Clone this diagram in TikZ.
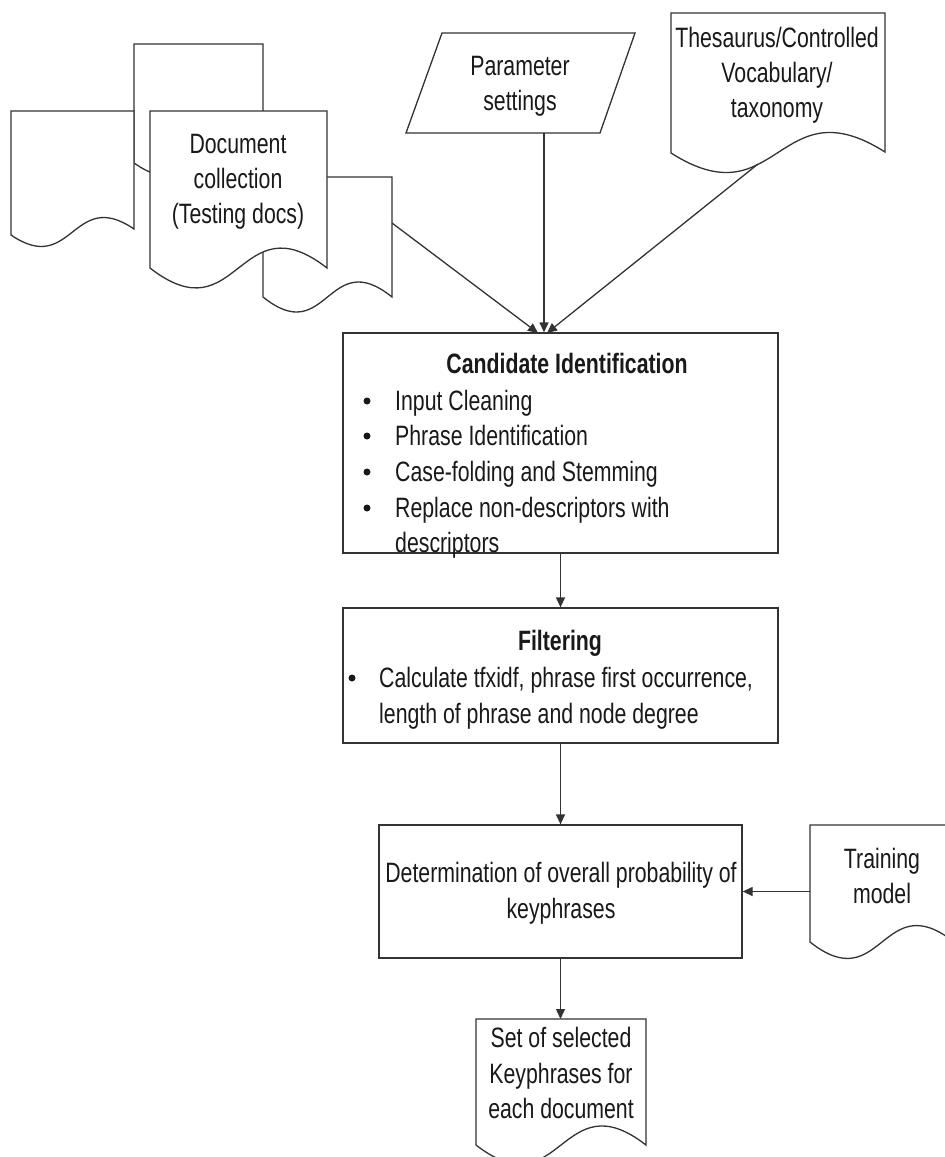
\documentclass[tikz,border=0pt]{standalone}
\usepackage{fontspec}
\setmainfont{Liberation Sans}[FakeStretch=0.76]
\usetikzlibrary{arrows.meta}

% document symbol with a wavy lower edge: x0, top, x1, left end y, right end y, wave strength
\newcommand{\flowdoc}[6]{%
  \draw[ln, fill=white] (#1,#4) -- (#1,#2) -- (#3,#2) -- (#3,#5)
    .. controls ({(#1+#3)/2},{#5-#6}) and ({(#1+#3)/2},{#4+#6}) .. (#1,#4) -- cycle;}

\begin{document}
\begin{tikzpicture}[x=1pt,y=-1pt,
  ln/.style={draw=black!80, line width=1.3pt},
  arr/.style={ln, -{Triangle[length=10pt,width=9pt]}},
  box/.style={ln, rectangle, inner sep=0pt, fill=white},
  txt/.style={anchor=base, inner sep=0pt, text=black!90, font=\fontsize{28}{35.5}\selectfont},
  ltxt/.style={txt, anchor=base west},
  btxt/.style={txt, font=\fontsize{28}{35.5}\selectfont\bfseries},
  dot/.style={circle, fill=black!90, inner sep=0pt, minimum size=7pt},
  ]
\useasboundingbox (0,0) rectangle (945,1157);

% --- document collection (stacked pages) ---
\flowdoc{134}{44}{263}{163}{163}{45}
\flowdoc{11}{111}{134}{235}{229}{42}
\flowdoc{263}{177}{392}{297}{297}{52}
\flowdoc{150}{111}{327}{268}{268}{69}
\node[txt] (dc1) at (238,153) {Document};
\node[txt] (dc2) at (238,188) {collection};
\node[txt] (dc3) at (238,223) {(Testing docs)};
\coordinate (dcOut) at (392,223);

% --- parameter settings (input) ---
\draw[ln, fill=white] (442,33) -- (635,33) -- (600,133) -- (406,133) -- cycle;
\node[txt] (par1) at (520,75) {Parameter};
\node[txt] (par2) at (520,110) {settings};
\coordinate (parOut) at (544,133);

% --- thesaurus ---
\flowdoc{671}{13}{885}{153}{152}{68}
\node[txt] (th1) at (777,47) {Thesaurus/Controlled};
\node[txt] (th2) at (777,82) {Vocabulary/};
\node[txt] (th3) at (777,117) {taxonomy};
\coordinate (thOut) at (758,164);

% --- candidate identification ---
\node[box, minimum width=435pt, minimum height=220pt] (cand) at (560.5,443) {};
\node[btxt] (candT) at (567,373) {Candidate Identification};
\foreach \yy/\tx [count=\i] in {410/Input Cleaning, 445/Phrase Identification,
    481/Case-folding and Stemming, 517/Replace non-descriptors with} {
  \node[dot] (cb\i) at (367,\yy-9) {};
  \node[ltxt] (ct\i) at (395,\yy) {\tx};
}
\node[ltxt] (ct5) at (395,552) {descriptors};

% --- filtering ---
\node[box, minimum width=435pt, minimum height=135pt] (filt) at (560.5,675.5) {};
\node[btxt] (filtT) at (560,650) {Filtering};
\node[dot] (fb1) at (352,678) {};
\node[ltxt] (ft1) at (379,687) {Calculate tfxidf, phrase first occurrence,};
\node[ltxt] (ft2) at (379,723) {length of phrase and node degree};

% --- probability ---
\node[box, minimum width=363pt, minimum height=133pt] (prob) at (560.5,891.5) {};
\node[txt] (pr1) at (561,882) {Determination of overall probability of};
\node[txt] (pr2) at (561,918) {keyphrases};

% --- training model ---
\flowdoc{810}{825}{954}{942}{942}{57}
\node[txt] (tr1) at (882,868) {Training};
\node[txt] (tr2) at (882,903) {model};
\coordinate (trIn) at (810,891.5);

% --- selected keyphrases ---
\flowdoc{476}{1019}{646}{1145}{1145}{66}
\node[txt] (ou1) at (561,1047) {Set of selected};
\node[txt] (ou2) at (561,1083) {Keyphrases for};
\node[txt] (ou3) at (561,1118) {each document};
\coordinate (ouTop) at (560.5,1019);

% --- connectors ---
\draw[arr] (dcOut) -- (538,333);
\draw[arr] (parOut) -- (parOut |- cand.north);
\draw[arr] (thOut) -- (547,333);
\draw[arr] (cand.south) -- (filt.north);
\draw[arr] (filt.south) -- (prob.north);
\draw[arr] (trIn) -- (prob.east);
\draw[arr] (prob.south) -- (ouTop);
\end{tikzpicture}
\end{document}
